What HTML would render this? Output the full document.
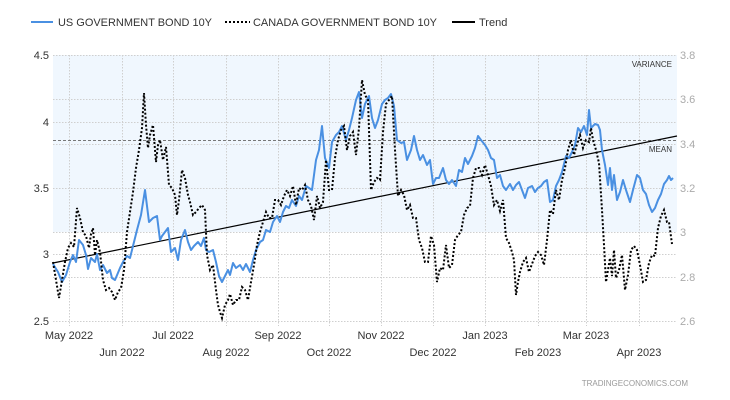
<!DOCTYPE html>
<html><head><meta charset="utf-8"><style>
body{margin:0;background:#fff}
svg{display:block;font-family:"Liberation Sans",sans-serif}
</style></head><body>
<svg width="730" height="400" viewBox="0 0 730 400">
<rect x="53" y="55" width="624" height="177" fill="#f0f7fe"/>
<g stroke="#cfcfcf" stroke-dasharray="1.5,1.5" stroke-width="1">
<line x1="53" y1="55.5" x2="677" y2="55.5"/><line x1="53" y1="99.5" x2="677" y2="99.5"/>
<line x1="53" y1="122.5" x2="677" y2="122.5"/><line x1="53" y1="144.5" x2="677" y2="144.5"/>
<line x1="53" y1="188.5" x2="677" y2="188.5"/><line x1="53" y1="232.5" x2="677" y2="232.5"/>
<line x1="53" y1="254.5" x2="677" y2="254.5"/><line x1="53" y1="277.5" x2="677" y2="277.5"/>
<line x1="53" y1="321.5" x2="677" y2="321.5"/>
<line x1="69.5" y1="55" x2="69.5" y2="326"/><line x1="122.5" y1="55" x2="122.5" y2="326"/>
<line x1="173.5" y1="55" x2="173.5" y2="326"/><line x1="226.5" y1="55" x2="226.5" y2="326"/>
<line x1="278.5" y1="55" x2="278.5" y2="326"/><line x1="329.5" y1="55" x2="329.5" y2="326"/>
<line x1="381.5" y1="55" x2="381.5" y2="326"/><line x1="433.5" y1="55" x2="433.5" y2="326"/>
<line x1="485.5" y1="55" x2="485.5" y2="326"/><line x1="538.5" y1="55" x2="538.5" y2="326"/>
<line x1="586.5" y1="55" x2="586.5" y2="326"/><line x1="639.5" y1="55" x2="639.5" y2="326"/>
</g>
<line x1="53" y1="140.5" x2="677" y2="140.5" stroke="#777" stroke-dasharray="3,2" stroke-width="1"/>
<text x="672" y="67" font-size="8" text-anchor="end" fill="#333">VARIANCE</text>
<text x="672" y="152" font-size="8" text-anchor="end" fill="#333">MEAN</text>
<line x1="53" y1="263" x2="677" y2="136" stroke="#000" stroke-width="1.2"/>
<polyline fill="none" stroke="#4a90e2" stroke-width="2" stroke-linejoin="round" points="53,264 58,272 62,282 66,275 70,262 73,255 76,262 79,240 83,245 86,255 88,269 91,258 95,262 97,254 100,270 103,265 107,273 110,270 112,278 115,280 120,268 123,262 127,256 130,258 133,246 137,230 141,215 145,190 149,222 153,218 157,216 160,240 162,236 165,232 168,228 171,252 175,248 178,260 181,240 185,230 188,242 191,250 194,246 198,242 201,246 204,238 206,250 209,252 213,250 216,262 219,276 222,282 225,276 228,270 230,275 233,263 236,268 240,265 243,270 246,264 250,272 253,260 256,250 260,242 263,240 266,230 270,232 273,222 277,216 280,222 283,212 286,206 289,208 292,200 296,206 299,196 302,200 306,186 309,188 312,190 316,160 319,150 322,126 325,158 329,168 332,142 336,135 339,132 342,126 346,140 349,130 352,118 356,100 359,92 362,118 365,104 369,96 372,118 375,128 378,120 382,104 385,100 388,98 391,94 394,106 397,140 401,143 404,142 407,160 411,150 414,136 417,150 420,160 423,155 427,165 430,160 433,184 436,178 439,178 443,168 446,180 449,184 452,180 456,186 459,170 462,172 465,158 468,164 472,156 475,148 478,136 481,140 485,145 488,150 491,158 494,160 497,178 500,175 503,186 506,190 510,184 513,190 516,185 519,182 522,190 525,198 528,188 532,186 535,192 538,188 541,186 544,182 547,180 550,202 553,200 556,186 559,180 562,172 566,156 569,158 572,152 575,145 578,128 581,132 584,126 587,135 589,110 591,128 595,124 598,125 600,130 602,150 605,165 608,185 610,168 612,190 614,175 617,200 620,192 623,180 626,190 630,202 633,190 637,175 640,178 643,190 646,194 649,205 652,212 655,208 658,200 661,194 664,184 667,180 669,176 671,180 673,178"/>
<polyline fill="none" stroke="#000" stroke-width="2" stroke-dasharray="2,2" points="53,262 56,280 59,298 62,280 65,262 68,248 71,243 74,247 77,208 80,218 83,232 86,236 89,248 91,234 93,228 95,255 97,240 100,252 103,280 106,290 109,288 112,292 115,300 118,292 121,288 124,270 127,232 130,212 133,192 136,168 139,150 142,128 144,93 146,125 148,148 150,135 153,125 156,162 158,145 160,140 163,160 166,147 169,185 172,188 175,195 177,215 179,200 182,170 185,178 188,195 190,202 193,215 196,212 199,208 202,205 205,210 207,255 210,270 213,265 216,290 218,305 220,312 222,318 225,305 228,300 230,294 233,305 236,300 239,300 242,287 245,290 248,300 251,282 254,265 257,245 260,232 263,222 266,212 269,218 272,218 275,200 278,200 281,205 284,196 287,190 290,196 293,186 296,205 299,188 302,190 305,185 308,200 311,206 314,220 317,196 320,208 323,202 326,160 329,190 332,190 335,158 338,140 341,130 344,126 347,150 350,136 353,132 356,155 359,128 362,80 365,95 368,100 371,190 374,182 377,178 380,180 383,132 386,104 389,100 392,96 395,150 398,196 401,190 404,195 407,210 410,205 413,218 416,218 419,240 422,248 425,262 428,262 431,236 434,245 437,282 440,268 443,270 446,245 449,268 452,265 455,240 458,235 461,232 464,215 467,208 470,206 473,178 476,168 479,168 482,175 485,165 488,175 491,186 494,205 497,200 500,211 503,200 506,238 509,243 512,252 514,260 516,295 518,282 520,272 523,262 526,258 529,272 532,264 535,256 538,252 541,255 544,265 547,240 550,210 553,214 556,190 559,200 562,180 565,168 568,150 571,140 574,155 577,144 580,135 583,148 586,140 589,142 591,128 593,140 596,150 599,163 602,210 604,245 606,282 608,270 610,258 612,276 614,250 616,278 619,270 622,255 625,290 628,275 631,250 634,246 637,250 640,265 643,282 646,280 649,263 652,255 655,256 658,228 661,216 664,210 667,222 669,222 672,244"/>
<g font-size="11" fill="#333" text-anchor="end">
<text x="49" y="59">4.5</text><text x="49" y="126">4</text><text x="49" y="192">3.5</text>
<text x="49" y="258">3</text><text x="49" y="325">2.5</text>
</g>
<g font-size="11" fill="#aaa">
<text x="680" y="59">3.8</text><text x="680" y="103">3.6</text><text x="680" y="148">3.4</text>
<text x="680" y="192">3.2</text><text x="680" y="236">3</text><text x="680" y="281">2.8</text>
<text x="680" y="325">2.6</text>
</g>
<g font-size="11" fill="#333" text-anchor="middle">
<text x="69" y="339">May 2022</text><text x="173" y="339">Jul 2022</text><text x="278" y="339">Sep 2022</text>
<text x="329" y="356">Oct 2022</text><text x="381" y="339">Nov 2022</text><text x="485" y="339">Jan 2023</text>
<text x="586" y="339">Mar 2023</text>
<text x="122" y="356">Jun 2022</text><text x="226" y="356">Aug 2022</text><text x="433" y="356">Dec 2022</text>
<text x="538" y="356">Feb 2023</text><text x="639" y="356">Apr 2023</text>
</g>
<line x1="31" y1="22" x2="53" y2="22" stroke="#4a90e2" stroke-width="2"/>
<text x="58" y="26" font-size="11" fill="#333" textLength="154" lengthAdjust="spacingAndGlyphs">US GOVERNMENT BOND 10Y</text>
<line x1="225" y1="22" x2="250" y2="22" stroke="#000" stroke-width="2" stroke-dasharray="2,2"/>
<text x="253" y="26" font-size="11" fill="#333" textLength="184" lengthAdjust="spacingAndGlyphs">CANADA GOVERNMENT BOND 10Y</text>
<line x1="452" y1="22" x2="475" y2="22" stroke="#000" stroke-width="2"/>
<text x="479" y="26" font-size="11" fill="#333">Trend</text>
<text x="688" y="386" font-size="8" fill="#999" text-anchor="end">TRADINGECONOMICS.COM</text>
</svg>
</body></html>
